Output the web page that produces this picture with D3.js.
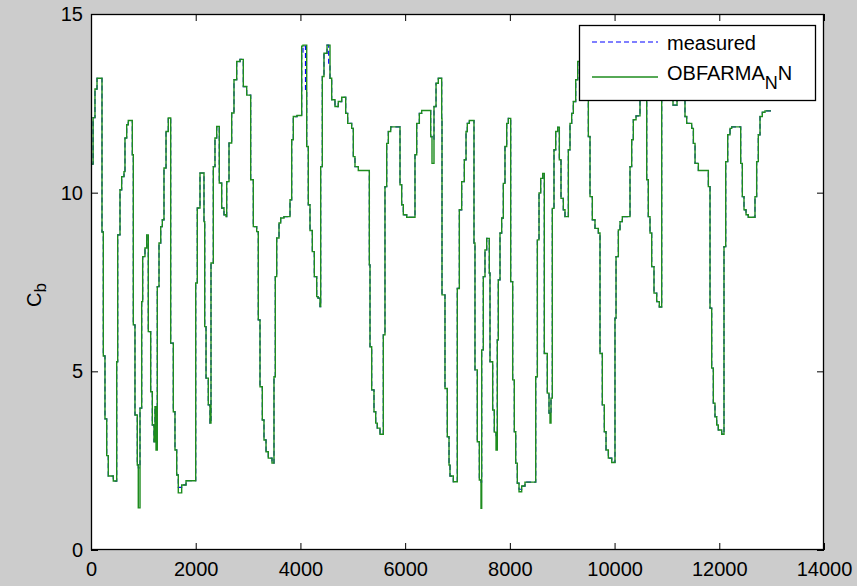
<!DOCTYPE html>
<html lang="en">
<head>
    <meta charset="UTF-8">
    <title>Cb measured vs OBFARMA_N N</title>
    <script src="https://d3js.org/d3.v7.min.js"></script>
    <style>
        body { margin: 0; background: #cccccc; }
        text { font-family: "Liberation Sans", Arial, sans-serif; fill: #000; }
    </style>
</head>
<body>
    <svg width="857" height="586"></svg>

    <script>
        // sample index (x) and Cb values
        const sampleIdx = [0, 40, 76, 115, 210, 235, 267, 300, 330, 426, 491, 510, 554, 586, 630, 649, 682, 712, 789, 808,
            840, 884, 903, 936, 968, 987, 1031, 1064, 1094, 1140, 1171, 1203, 1222, 1242, 1266, 1299, 1332, 1362, 1394, 1433,
            1476, 1522, 1572, 1604, 1637, 1667, 1732, 1815, 2000, 2030, 2082, 2158, 2172, 2197, 2240, 2273, 2292, 2336, 2368, 2401,
            2450, 2496, 2540, 2579, 2592, 2636, 2687, 2731, 2783, 2846, 2909, 2974, 3050, 3100, 3165, 3195, 3228, 3272, 3304, 3343,
            3386, 3457, 3495, 3520, 3547, 3591, 3623, 3686, 3801, 3833, 3864, 3935, 4024, 4049, 4097, 4120, 4150, 4183, 4227, 4265,
            4311, 4336, 4374, 4387, 4418, 4450, 4508, 4540, 4565, 4597, 4660, 4723, 4788, 4865, 4903, 4979, 5010, 5042, 5105, 5316,
            5329, 5361, 5405, 5438, 5468, 5520, 5583, 5615, 5648, 5679, 5724, 5902, 5934, 5965, 6030, 6188, 6221, 6271, 6316, 6488,
            6513, 6551, 6590, 6633, 6698, 6704, 6761, 6805, 6838, 6857, 6920, 6996, 7035, 7080, 7130, 7163, 7187, 7226, 7315, 7334,
            7378, 7417, 7449, 7462, 7493, 7525, 7558, 7607, 7621, 7672, 7703, 7736, 7760, 7779, 7812, 7844, 7875, 7907, 7940, 7971,
            8016, 8054, 8085, 8112, 8142, 8175, 8226, 8289, 8494, 8525, 8557, 8589, 8627, 8658, 8715, 8748, 8767, 8786, 8811, 8843,
            8876, 8914, 8945, 8977, 9021, 9053, 9117, 9149, 9181, 9212, 9258, 9296, 9340, 9474, 9499, 9531, 9575, 9626, 9690, 9722,
            9766, 9804, 9837, 9881, 9946, 10008, 10028, 10072, 10104, 10148, 10295, 10327, 10358, 10410, 10486, 10614, 10644, 10677, 10709, 10753,
            10805, 10854, 10900, 11116, 11193, 11345, 11378, 11473, 11505, 11537, 11600, 11791, 11823, 11855, 11886, 11918, 11951, 11981, 12046, 12090,
            12123, 12161, 12205, 12237, 12409, 12440, 12472, 12511, 12554, 12682, 12714, 12745, 12778, 12822, 12873, 12988];

        const cbModel = [10.8, 12.1, 12.9, 13.2, 8.9, 5.43, 3.67, 2.64, 2.07, 1.93, 5.27, 8.82, 10.08, 10.45, 10.59, 11.53, 11.9, 12.02, 11.06, 6.3,
            3.78, 2.38, 1.18, 3.97, 6.95, 8.21, 8.45, 8.82, 6.11, 4.43, 3.5, 3.03, 4.01, 2.8, 7.37, 8.59, 9.05, 9.24, 10.69, 11.71,
            12.09, 5.79, 3.87, 2.8, 2.1, 1.6, 1.82, 1.94, 7.47, 9.57, 10.55, 9.19, 6.25, 4.81, 4.06, 3.55, 8.03, 10.73, 11.53, 11.85,
            10.27, 9.57, 9.38, 9.33, 10.31, 11.39, 12.23, 13.16, 13.67, 13.73, 12.97, 12.73, 10.36, 9.05, 8.91, 6.44, 4.57, 3.64, 3.08, 2.75,
            2.57, 2.43, 4.85, 7.65, 8.73, 9.15, 9.29, 9.33, 9.8, 11.48, 12.13, 12.16, 14.1, 14.13, 14.13, 11.29, 9.66, 8.94, 8.35, 7.65,
            7.09, 7.05, 6.81, 10.73, 13.25, 13.9, 14.13, 14.13, 13.2, 12.6, 12.41, 12.55, 12.67, 12.22, 11.94, 11.8, 11.01, 10.73, 10.62, 7.98,
            5.69, 4.48, 3.87, 3.55, 3.41, 3.24, 6.02, 10.17, 11.38, 11.71, 11.84, 10.22, 9.66, 9.38, 9.31, 11.06, 11.94, 12.22, 12.3, 11.57,
            10.82, 12.41, 13.06, 13.2, 12.08, 7.14, 4.52, 3.17, 2.38, 2.07, 1.91, 7.32, 9.52, 10.31, 10.92, 11.71, 11.94, 12.02, 8.59, 5.04,
            3.03, 1.96, 1.17, 5.6, 7.65, 8.4, 8.72, 7.75, 5.27, 3.92, 3.3, 2.8, 5.88, 7.56, 8.87, 9.29, 10.26, 11.29, 11.94, 12.08,
            7.51, 4.76, 3.31, 2.43, 1.87, 1.63, 1.79, 1.9, 4.85, 8.68, 9.99, 10.4, 10.54, 5.5, 4.39, 3.83, 3.55, 4.25, 9.56, 11.2,
            11.71, 11.83, 10.92, 9.84, 9.52, 9.33, 11.2, 11.94, 12.22, 12.55, 13.16, 13.67, 14.0, 13.7, 11.57, 9.89, 9.24, 9.0, 8.87, 5.5,
            4.06, 3.31, 2.8, 2.57, 2.45, 6.49, 8.21, 8.96, 9.19, 9.33, 10.73, 11.48, 12.04, 12.15, 13.4, 10.36, 9.33, 8.87, 7.93, 7.19,
            6.95, 6.8, 13.0, 12.45, 12.8, 12.13, 11.94, 11.8, 11.38, 10.82, 10.62, 10.17, 6.77, 5.09, 4.11, 3.73, 3.5, 3.36, 3.24, 8.49,
            10.87, 11.62, 11.8, 11.84, 10.82, 9.89, 9.52, 9.38, 9.31, 9.89, 10.87, 11.62, 12.13, 12.25, 12.29, 12.29];

        const cbMeasured = [10.8, 12.1, 12.9, 13.2, 8.9, 5.43, 3.67, 2.64, 2.07, 1.93, 5.27, 8.82, 10.08, 10.45, 10.59, 11.53, 11.9, 12.02, 11.06, 6.3,
            3.78, 2.38, 2.3, 3.97, 6.95, 8.21, 8.45, 8.82, 6.11, 4.43, 3.5, 3.03, 4.01, 3.9, 7.37, 8.59, 9.05, 9.24, 10.69, 11.71,
            12.09, 5.79, 3.87, 2.8, 2.1, 1.75, 1.82, 1.94, 7.47, 9.57, 10.55, 9.19, 6.25, 4.81, 4.06, 3.55, 8.03, 10.73, 11.53, 11.85,
            10.27, 9.57, 9.38, 9.33, 10.31, 11.39, 12.23, 13.16, 13.67, 13.73, 12.97, 12.73, 10.36, 9.05, 8.91, 6.44, 4.57, 3.64, 3.08, 2.75,
            2.57, 2.43, 4.85, 7.65, 8.73, 9.15, 9.29, 9.33, 9.8, 11.48, 12.13, 12.16, 13.9, 14.1, 12.8, 11.29, 9.66, 8.94, 8.35, 7.65,
            7.09, 7.05, 6.81, 10.73, 13.25, 13.9, 14.13, 13.6, 13.2, 12.6, 12.41, 12.55, 12.67, 12.22, 11.94, 11.8, 11.01, 10.73, 10.62, 7.98,
            5.69, 4.48, 3.87, 3.55, 3.41, 3.24, 6.02, 10.17, 11.38, 11.71, 11.84, 10.22, 9.66, 9.38, 9.31, 11.06, 11.94, 12.22, 12.3, 11.57,
            11.5, 12.41, 13.06, 13.2, 12.08, 7.14, 4.52, 3.17, 2.38, 2.07, 1.91, 7.32, 9.52, 10.31, 10.92, 11.71, 11.94, 12.02, 8.59, 5.04,
            3.03, 1.96, 1.9, 5.6, 7.65, 8.4, 8.72, 7.75, 5.27, 3.92, 3.3, 3.2, 5.88, 7.56, 8.87, 9.29, 10.26, 11.29, 11.94, 12.08,
            7.51, 4.76, 3.31, 2.43, 1.87, 1.7, 1.79, 1.9, 4.85, 8.68, 9.99, 10.4, 10.54, 5.5, 4.39, 3.83, 3.8, 4.25, 9.56, 11.2,
            11.71, 11.83, 10.92, 9.84, 9.52, 9.33, 11.2, 11.94, 12.22, 12.55, 13.16, 13.67, 14.0, 13.7, 11.57, 9.89, 9.24, 9.0, 8.87, 5.5,
            4.06, 3.31, 2.8, 2.57, 2.45, 6.49, 8.21, 8.96, 9.19, 9.33, 10.73, 11.48, 12.04, 12.15, 13.4, 10.36, 9.33, 8.87, 7.93, 7.19,
            6.95, 6.8, 13.0, 12.45, 12.8, 12.13, 11.94, 11.8, 11.38, 10.82, 10.62, 10.17, 6.77, 5.09, 4.11, 3.73, 3.5, 3.36, 3.24, 8.49,
            10.87, 11.62, 11.8, 11.84, 10.82, 9.89, 9.52, 9.38, 9.31, 9.89, 10.87, 11.62, 12.13, 12.25, 12.29, 12.29];

        const xTicks = [0, 2000, 4000, 6000, 8000, 10000, 12000, 14000];
        const yTicks = [0, 5, 10, 15];

        const svg = d3.select("svg");
        const axLeft = 91, axTop = 14, axRight = 824, axBottom = 550;

        const x = d3.scaleLinear().domain([0, 14000]).range([axLeft, axRight]);
        const y = d3.scaleLinear().domain([0, 15]).range([axBottom, axTop]);

        // figure background and axes area
        svg.append("rect").attr("width", 857).attr("height", 586).attr("fill", "#cccccc");
        svg.append("rect")
            .attr("x", axLeft).attr("y", axTop)
            .attr("width", axRight - axLeft).attr("height", axBottom - axTop)
            .attr("fill", "#fff");

        // data lines (steps)
        const line = (vals) => d3.line()
            .x((d, i) => x(sampleIdx[i]))
            .y(d => y(d))
            .curve(d3.curveStepAfter)(vals);

        svg.append("path")
            .attr("d", line(cbMeasured))
            .attr("fill", "none")
            .attr("stroke", "#0000ff")
            .attr("stroke-width", 1.2)
            .attr("stroke-dasharray", "5,3");

        svg.append("path")
            .attr("d", line(cbModel))
            .attr("fill", "none")
            .attr("stroke", "#1e8c1e")
            .attr("stroke-width", 1.4);

        // axes, matlab style ticks pointing inward on all sides
        const styleAxis = g => {
            g.select(".domain").remove();
            g.selectAll(".tick line").attr("stroke", "#000");
            g.selectAll("text").style("font-size", "20px").attr("fill", "#000");
        };

        svg.append("g")
            .attr("transform", `translate(0,${axBottom})`)
            .call(d3.axisBottom(x).tickValues(xTicks).tickSizeInner(-7).tickSizeOuter(0).tickPadding(12).tickFormat(d3.format("d")))
            .call(styleAxis);

        svg.append("g")
            .attr("transform", `translate(0,${axTop})`)
            .call(d3.axisTop(x).tickValues(xTicks).tickSizeInner(-7).tickSizeOuter(0).tickFormat(""))
            .call(styleAxis);

        svg.append("g")
            .attr("transform", `translate(${axLeft},0)`)
            .call(d3.axisLeft(y).tickValues(yTicks).tickSizeInner(-7).tickSizeOuter(0).tickPadding(8))
            .call(styleAxis);

        svg.append("g")
            .attr("transform", `translate(${axRight},0)`)
            .call(d3.axisRight(y).tickValues(yTicks).tickSizeInner(-7).tickSizeOuter(0).tickFormat(""))
            .call(styleAxis);

        svg.append("rect")
            .attr("x", axLeft + 0.5).attr("y", axTop + 0.5)
            .attr("width", axRight - axLeft - 1).attr("height", axBottom - axTop - 1)
            .attr("fill", "none")
            .attr("stroke", "#000")
            .attr("stroke-width", 1.3);

        // y label C_b
        const ylab = svg.append("text")
            .attr("transform", "translate(41,307) rotate(-90)")
            .style("font-size", "20px");
        ylab.append("tspan").text("C");
        ylab.append("tspan").attr("dy", 5).style("font-size", "17px").text("b");

        // legend
        const lg = svg.append("g");
        lg.append("rect")
            .attr("x", 579.5).attr("y", 25.5).attr("width", 236).attr("height", 75)
            .attr("fill", "#fff").attr("stroke", "#000").attr("stroke-width", 1.3);
        lg.append("line")
            .attr("x1", 592).attr("x2", 658).attr("y1", 42).attr("y2", 42)
            .attr("stroke", "#0000ff").attr("stroke-width", 1.2).attr("stroke-dasharray", "5,3");
        lg.append("line")
            .attr("x1", 592).attr("x2", 658).attr("y1", 77).attr("y2", 77)
            .attr("stroke", "#1e8c1e").attr("stroke-width", 1.4);
        lg.append("text").attr("x", 667).attr("y", 50).style("font-size", "20px").text("measured");
        const t2 = lg.append("text").attr("x", 667).attr("y", 80).style("font-size", "20px");
        t2.append("tspan").text("OBFARMA");
        t2.append("tspan").attr("dy", 9).style("font-size", "18px").text("N");
        t2.append("tspan").attr("dy", -9).text("N");
    </script>
</body>
</html>
